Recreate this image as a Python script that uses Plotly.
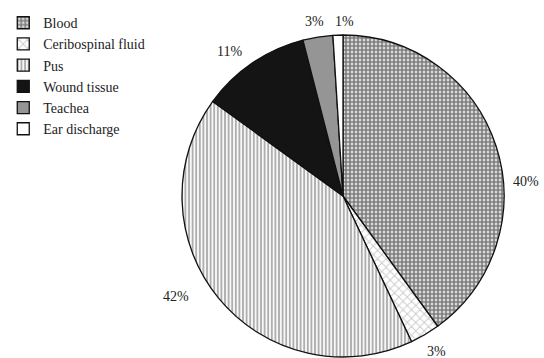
import plotly.graph_objects as go

labels = ["Blood", "Ceribospinal fluid", "Pus", "Wound tissue", "Teachea", "Ear discharge"]
values = [40, 3, 42, 11, 3, 1]

# styles
fill_colors = ["#ffffff", "#ffffff", "#ffffff", "#141414", "#959595", "#ffffff"]
pattern_shapes = [".", "x", "|", "", "", ""]
pattern_fg = ["#000000", "#9a9a9a", "#5e5e5e", "#141414", "#959595", "#ffffff"]
pattern_size = [4, 6, 3.6, 4, 4, 4]
pattern_solid = [0.75, 0.3, 0.55, 0.5, 0.5, 0.5]
# label placement (paper px offsets from pie centre), layout only
label_offsets = [(183, -15), (93, 155), (-167, 100), (-114, -144), (-29, -174), (1, -174)]

W, H = 544, 358
cx, cy, r = 343, 196, 161

fig = go.Figure(go.Pie(
    labels=labels,
    values=values,
    sort=False,
    direction="clockwise",
    rotation=0,
    textinfo="none",
    marker=dict(
        colors=fill_colors,
        line=dict(color="#111111", width=1.3),
        pattern=dict(shape=pattern_shapes, fgcolor=pattern_fg, bgcolor=fill_colors,
                     size=pattern_size, solidity=pattern_solid, fillmode="overlay"),
    ),
    domain=dict(x=[(cx - r) / W, (cx + r) / W],
                y=[(H - cy - r) / H, (H - cy + r) / H]),
    automargin=False,
    showlegend=True,
))

total = sum(values)
for v, (dx, dy) in zip(values, label_offsets):
    fig.add_annotation(
        x=(cx + dx) / W, y=(H - cy - dy) / H, xref="paper", yref="paper",
        text=f"{round(100 * v / total)}%", showarrow=False,
        font=dict(family="Liberation Serif", size=14, color="#222222"),
        xanchor="center", yanchor="middle",
    )

fig.update_layout(
    width=W, height=H,
    margin=dict(l=0, r=0, t=0, b=0, autoexpand=False),
    paper_bgcolor="white",
    plot_bgcolor="white",
    legend=dict(x=0.006, y=0.98, xanchor="left", yanchor="top",
                font=dict(family="Liberation Serif", size=14, color="#222222"),
                tracegroupgap=0, itemwidth=30, bgcolor="rgba(0,0,0,0)"),
)

fig.write_html("out.html")
